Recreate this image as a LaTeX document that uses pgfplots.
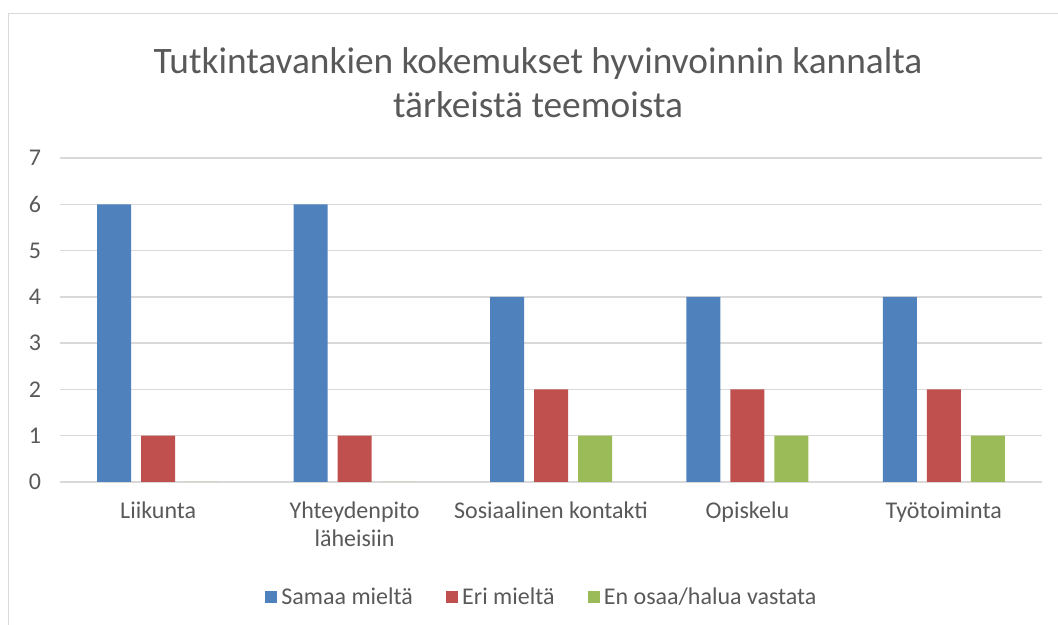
\documentclass[border=0pt]{standalone}
\usepackage{pgfplots}
\pgfplotsset{compat=1.18}
\usepackage{fontspec}
\setmainfont{Carlito}
\definecolor{cblue}{HTML}{4F81BD}
\definecolor{cred}{HTML}{C0504D}
\definecolor{cgreen}{HTML}{9BBB59}
\definecolor{cgrid}{HTML}{D9D9D9}
\definecolor{ctext}{HTML}{595959}
\pgfplotstableread{
x samaa eri eos
0 6 1 0
1 6 1 0
2 4 2 1
3 4 2 1
4 4 2 1
}\datatable
\begin{document}
\begin{tikzpicture}
\path[use as bounding box] (0pt,0pt) rectangle (793.5pt,468.75pt);
\draw[cgrid, line width=0.75pt] (6pt,-20pt) rectangle (820pt,458.25pt);
\node[ctext, align=center, font=\fontsize{28}{33}\selectfont] at (403.5pt,406.5pt)
  {Tutkintavankien kokemukset hyvinvoinnin kannalta\\tärkeistä teemoista};
\begin{axis}[
  at={(45pt,107.25pt)}, anchor=south west,
  scale only axis, width=736.5pt, height=243pt,
  ybar, bar width=25.5pt,
  xmin=-0.5, xmax=4.5, ymin=0, ymax=7,
  xtick=data,
  xticklabels={Liikunta,{Yhteydenpito\\läheisiin},Sosiaalinen kontakti,Opiskelu,Työtoiminta},
  ytick={0,1,...,7},
  axis x line*=bottom, axis y line*=left,
  x axis line style={cgrid, line width=1pt, -},
  y axis line style={draw=none},
  ymajorgrids, grid style={cgrid, line width=1pt},
  major tick length=0pt,
  tick style={draw=none},
  /pgf/number format/assume math mode=true,
  yticklabel style={ctext, font=\fontsize{18}{21}\selectfont, anchor=east, inner sep=0pt, xshift=-14pt},
  xticklabel style={ctext, font=\fontsize{18}{21}\selectfont, align=center, anchor=north, inner sep=0pt, yshift=-15pt},
  legend columns=3,
  legend style={draw=none, fill=none, at={(0.4918,-0.355)}, anchor=center,
    font=\fontsize{18}{21}\selectfont, text=ctext,
    /tikz/every even column/.append style={column sep=22pt},
    nodes={inner sep=3pt}},
  legend image code/.code={\fill[#1] (0pt,-4.5pt) rectangle (9pt,4.5pt);},
  clip=false,
]
\addplot[fill=cblue, draw=none, bar shift=-33pt] table[x=x,y=samaa] {\datatable};
\addplot[fill=cred, draw=none, bar shift=0pt] table[x=x,y=eri] {\datatable};
\addplot[fill=cgreen, draw=none, bar shift=33pt] table[x=x,y=eos] {\datatable};
\legend{Samaa mieltä,Eri mieltä,En osaa/halua vastata}
\end{axis}
\end{tikzpicture}
\end{document}
